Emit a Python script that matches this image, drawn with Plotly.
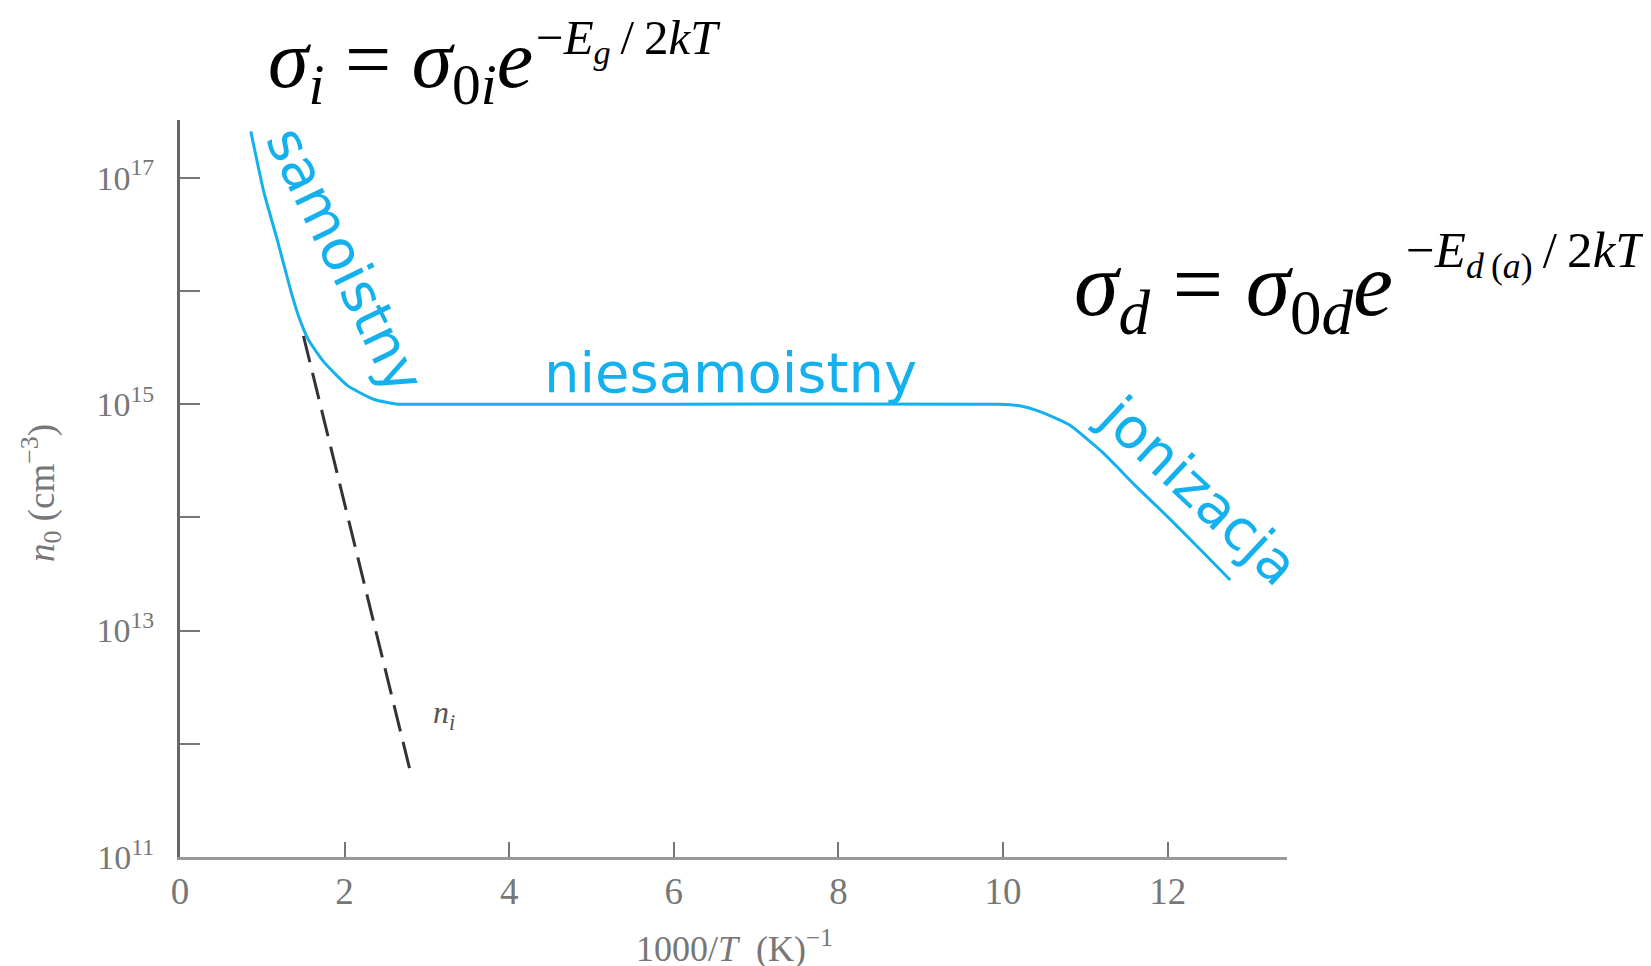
import plotly.graph_objects as go

# ---- data ----
n0_x = [0.86, 1.02, 1.19, 1.35, 1.44, 1.56, 1.75, 2.04, 2.36, 2.65, 3.05, 6.0, 9.95,
        10.2, 10.45, 10.8, 11.2, 11.61, 12.02, 12.42, 12.76]
n0_y = [2.57e17, 7.41e16, 2.69e16, 9.8e15, 6.0e15, 3.7e15, 2.35e15, 1.45e15, 1.10e15,
        1.0e15, 1.0e15, 1.0e15, 1.0e15, 9.7e14, 8.6e14, 6.6e14, 3.8e14, 1.9e14, 9.8e13,
        5.0e13, 2.8e13]

ni_x = [1.50, 2.82]
ni_y = [4.0e15, 4.9e11]

x_ticks = [0, 2, 4, 6, 8, 10, 12]
y_tickvals = [1e11, 1e12, 1e13, 1e14, 1e15, 1e16, 1e17]
y_ticktext = ["10<sup>11</sup>", "", "10<sup>13</sup>", "", "10<sup>15</sup>", "", "10<sup>17</sup>"]

# ---- layout geometry ----
W, H = 1651, 966
L, R, T, B = 172, 1279, 112, 849

def px(x):
    return (x - L) / (R - L)

def py(y):
    return (B - y) / (B - T)

BLUE = "#14b1ee"
GREY = "#777777"
SERIF = "Liberation Serif"

fig = go.Figure()
fig.add_trace(go.Scatter(x=n0_x, y=n0_y, mode="lines",
                         line=dict(color=BLUE, width=3, shape="spline", smoothing=0.5),
                         hoverinfo="skip"))
fig.add_trace(go.Scatter(x=ni_x, y=ni_y, mode="lines",
                         line=dict(color="#333333", width=3, dash="27px,11px"),
                         hoverinfo="skip"))

ann = []
# region labels
ann.append(dict(text="samoistny", x=px(338), y=py(252), textangle=64,
                font=dict(family="DejaVu Sans", size=56, color=BLUE)))
ann.append(dict(text="niesamoistny", x=px(722), y=py(364),
                font=dict(family="DejaVu Sans", size=56, color=BLUE)))
ann.append(dict(text="jonizacja", x=px(1190), y=py(482), textangle=43,
                font=dict(family="DejaVu Sans", size=56, color=BLUE)))
# n_i label
ann.append(dict(text="<i>n<sub>i</sub></i>", x=px(436), y=py(706),
                font=dict(family=SERIF, size=32, color="#555555")))
# axis titles
ann.append(dict(text="1000/<i>T</i>  (K)<sup>−1</sup>", x=px(726), y=py(938),
                font=dict(family=SERIF, size=36, color=GREY)))
ann.append(dict(text="<i>n</i><sub>0</sub> (cm<sup>−3</sup>)", x=px(33), y=py(485), textangle=-90,
                font=dict(family=SERIF, size=37, color=GREY)))
# formulas
ann.append(dict(text="<i>σ</i><sub><i>i</i></sub> = <i>σ</i><sub>0<i>i</i></sub><i>e</i>",
                x=px(258), y=py(57), xanchor="left",
                font=dict(family=SERIF, size=82, color="black")))
ann.append(dict(text="−<i>E</i><sub><i>g</i></sub>\u2009/\u20092<i>kT</i>",
                x=px(526), y=py(32), xanchor="left",
                font=dict(family=SERIF, size=49, color="black")))
ann.append(dict(text="<i>σ</i><sub><i>d</i></sub> = <i>σ</i><sub>0<i>d</i></sub><i>e</i>",
                x=px(1064), y=py(283), xanchor="left",
                font=dict(family=SERIF, size=90, color="black")))
ann.append(dict(text="−<i>E</i><sub><i>d</i>\u2009(<i>a</i>)</sub>\u2009/\u20092<i>kT</i>",
                x=px(1396), y=py(246), xanchor="left",
                font=dict(family=SERIF, size=51, color="black")))

for a in ann:
    a.setdefault("xanchor", "center")
    a.update(xref="paper", yref="paper", showarrow=False, yanchor="middle")

fig.update_layout(
    width=W, height=H,
    margin=dict(l=L, r=W - R, t=T, b=H - B),
    paper_bgcolor="white", plot_bgcolor="white",
    showlegend=False,
    annotations=ann,
    xaxis=dict(range=[0, 13.45], showgrid=False, zeroline=False,
               showline=True, linecolor="#999999", linewidth=3,
               ticks="inside", ticklen=15, tickwidth=2, tickcolor=GREY,
               tickvals=x_ticks, ticktext=[str(v) for v in x_ticks],
               tickfont=dict(family=SERIF, size=37, color=GREY),
               ticklabelstandoff=0),
    yaxis=dict(type="log", range=[11, 17.51], showgrid=False, zeroline=False,
               showline=True, linecolor="#666666", linewidth=3,
               ticks="inside", ticklen=20, tickwidth=2, tickcolor=GREY,
               tickvals=y_tickvals, ticktext=y_ticktext,
               tickfont=dict(family=SERIF, size=34, color=GREY),
               ticklabelstandoff=16),
)

fig.write_html("out.html")
